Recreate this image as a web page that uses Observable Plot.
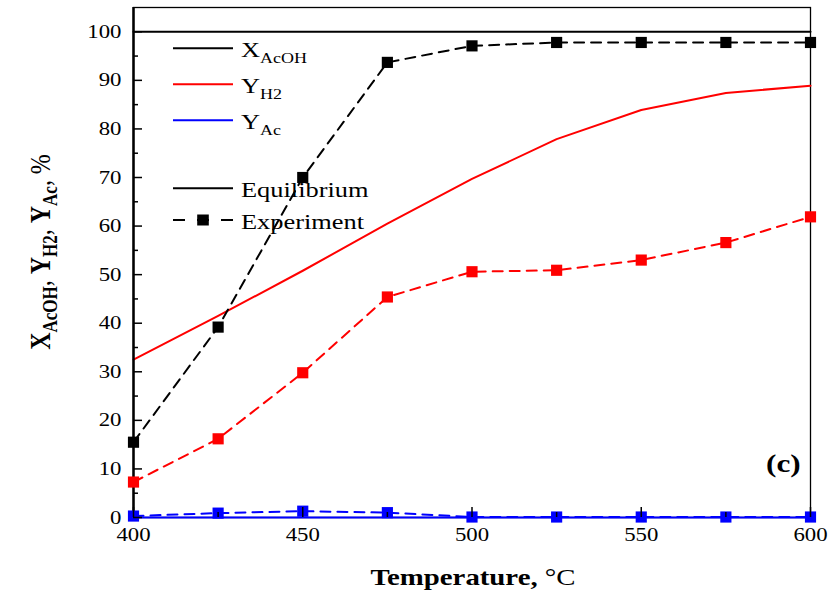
<!DOCTYPE html>
<html><head><meta charset="utf-8">
<script src="https://cdn.jsdelivr.net/npm/d3@7"></script>
<script src="https://cdn.jsdelivr.net/npm/@observablehq/plot@0.6"></script>
<style>
body{margin:0;background:#fff}
#wrap{position:relative;width:833px;height:592px}
#overlay{position:absolute;left:0;top:0;pointer-events:none}
</style>
</head><body><div id="wrap"></div>
<script>
// ---- data ----
const temps   = [400, 425, 450, 475, 500, 525, 550, 575, 600];
const eqX     = [100, 100, 100, 100, 100, 100, 100, 100, 100];
const eqYH2   = [32.5, 41.5, 50.8, 60.5, 69.7, 77.9, 83.9, 87.4, 88.9];
const eqYAc   = [0, 0, 0, 0, 0, 0, 0, 0, 0];
const expX    = [15.5, 39.2, 70.0, 93.7, 97.1, 97.8, 97.8, 97.8, 97.8];
const expYH2  = [7.3, 16.2, 29.8, 45.4, 50.6, 50.9, 53.0, 56.6, 61.9];
const expYAc  = [0.3, 0.9, 1.3, 1.0, 0.1, 0.1, 0.1, 0.1, 0.1];
const xMajor  = [400, 450, 500, 550, 600];
const xMinor  = [425, 475, 525, 575];
const yMajor  = [0, 10, 20, 30, 40, 50, 60, 70, 80, 90, 100];
const yMinor  = [5, 15, 25, 35, 45, 55, 65, 75, 85, 95];
const seriesNames  = ["X", "Y", "Y"];
const seriesSubs   = ["AcOH", "H2", "Ac"];
const seriesColors = ["black", "red", "blue"];
const styleNames   = ["Equilibrium", "Experiment"];

const SX = 1.2; // horizontal glyph stretch of the reference

const eqSeries  = [eqX, eqYH2, eqYAc];
const expSeries = [expX, expYH2, expYAc];

const marks = [Plot.frame({stroke: "black", strokeWidth: 1.3})];
eqSeries.forEach((vals, k) => {
  marks.push(Plot.line(temps, {x: d => d, y: (d, i) => vals[i], stroke: seriesColors[k], strokeWidth: 2}));
});
marks.push(Plot.ruleX([400], {stroke: "black", strokeWidth: 2.5}));
expSeries.forEach((vals, k) => {
  marks.push(Plot.line(temps, {x: d => d, y: (d, i) => vals[i], stroke: seriesColors[k], strokeWidth: 2, strokeDasharray: "10,7"}));
});
expSeries.forEach((vals, k) => {
  marks.push(Plot.dot(temps, {x: d => d, y: (d, i) => vals[i], fill: seriesColors[k], symbol: "square", r: 6.3}));
});
marks.push(
  Plot.axisY({ticks: yMajor, tickSize: 0, tickPadding: 12, label: null, tickFormat: d => String(d)}),
  Plot.axisY({ticks: yMajor, tickSize: -9, strokeWidth: 1.5, label: null, tickFormat: () => ""}),
  Plot.axisY({ticks: yMinor, tickSize: -5, strokeWidth: 1.5, label: null, tickFormat: () => ""}),
  Plot.axisX({ticks: xMajor, tickSize: 0, tickPadding: 10, label: null, tickFormat: d => String(d)}),
  Plot.axisX({ticks: xMajor, tickSize: -10, strokeWidth: 1.5, label: null, tickFormat: () => ""}),
  Plot.axisX({ticks: xMinor, tickSize: -5, strokeWidth: 1.5, label: null, tickFormat: () => ""})
);

const chart = Plot.plot({
  width: 833, height: 592,
  marginLeft: 133, marginRight: 23, marginTop: 7, marginBottom: 75,
  x: {domain: [400, 600]},
  y: {domain: [0, 105]},
  style: {fontFamily: "'Liberation Serif', serif", fontSize: "19px", color: "black", background: "white", overflow: "visible"},
  marks
});
chart.querySelectorAll("text").forEach(t => {
  t.setAttribute("transform", (t.getAttribute("transform") || "") + ` scale(${SX},1)`);
});
const wrap = document.getElementById("wrap");
wrap.appendChild(chart);

// ---- overlay: legend, axis titles, panel tag ----
let s = `<svg id="overlay" xmlns="http://www.w3.org/2000/svg" width="833" height="592" font-family="'Liberation Serif', serif" fill="black">`;
seriesNames.forEach((n, i) => {
  const base = 57.3 + 36 * i;
  s += `<line x1="173" x2="233" y1="${base - 9}" y2="${base - 9}" stroke="${seriesColors[i]}" stroke-width="2"/>`;
  s += `<text transform="translate(241,${base}) scale(${SX},1)" font-size="22">${n}<tspan font-size="15" dy="6">${seriesSubs[i]}</tspan></text>`;
});
[197.3, 229].forEach((base, i) => {
  if (i === 0) {
    s += `<line x1="173" x2="233" y1="${base - 9}" y2="${base - 9}" stroke="black" stroke-width="2"/>`;
  } else {
    s += `<line x1="173" x2="233" y1="${base - 9}" y2="${base - 9}" stroke="black" stroke-width="2" stroke-dasharray="12,12"/>`;
    s += `<rect x="${203 - 5.8}" y="${base - 9 - 5.5}" width="11.6" height="11" fill="black"/>`;
  }
  s += `<text transform="translate(241,${base}) scale(${SX},1)" font-size="22">${styleNames[i]}</text>`;
});
// x title
s += `<text transform="translate(473,585) scale(${SX},1)" text-anchor="middle" font-size="24"><tspan font-weight="bold">Temperature,</tspan> °C</text>`;
// y title (rotated)
s += `<text transform="translate(50,252) scale(${SX},1) rotate(-90)" text-anchor="middle" font-size="24">` +
     `<tspan font-weight="bold">X</tspan><tspan font-weight="bold" font-size="17" dy="6">AcOH</tspan><tspan dy="-6">, </tspan>` +
     `<tspan font-weight="bold">Y</tspan><tspan font-weight="bold" font-size="17" dy="6">H2</tspan><tspan dy="-6">, </tspan>` +
     `<tspan font-weight="bold">Y</tspan><tspan font-weight="bold" font-size="17" dy="6">Ac</tspan><tspan dy="-6">, %</tspan></text>`;
// panel tag
s += `<text transform="translate(766,472) scale(${SX},1)" font-size="26" font-weight="bold">(c)</text>`;
s += `</svg>`;
wrap.insertAdjacentHTML("beforeend", s);
</script>
</body></html>
